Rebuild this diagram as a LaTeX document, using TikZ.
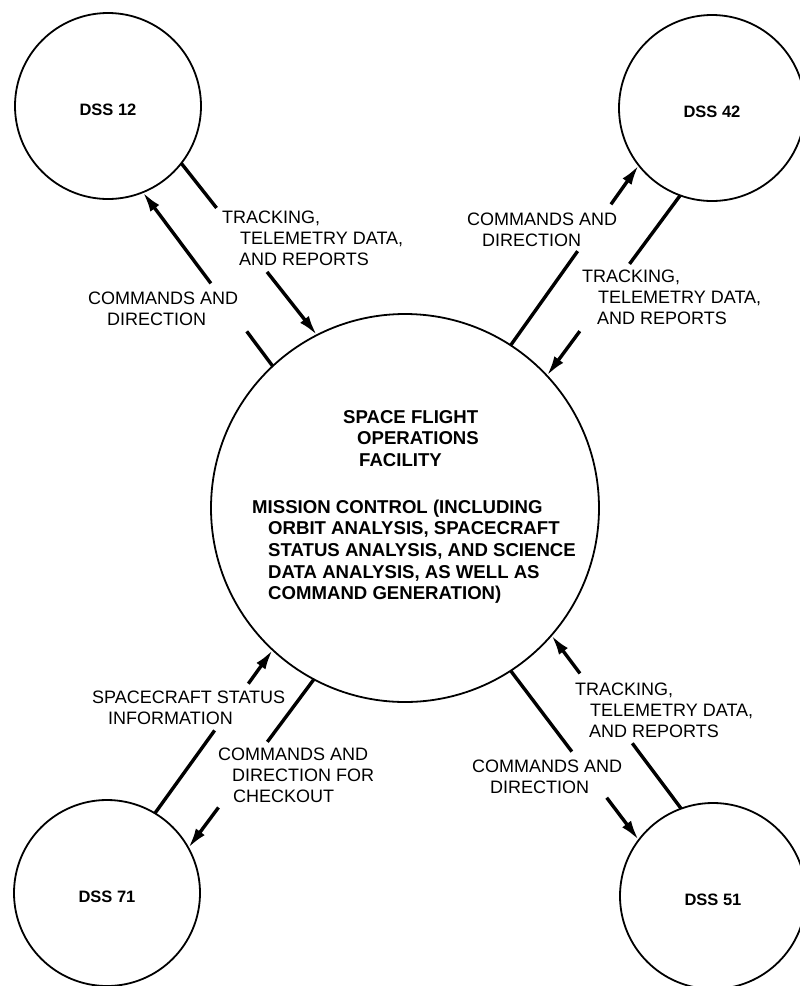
\documentclass[tikz,border=0pt]{standalone}
\usepackage{fontspec}
\setmainfont{Liberation Sans}
\usetikzlibrary{arrows.meta,calc}
% multi-line label block, baseline at the first line
\newcommand\lblock[1]{\begin{tabular}[t]{@{}l@{}}#1\end{tabular}}
\begin{document}
\begin{tikzpicture}[x=1pt,y=-1pt,
  station/.style={circle,draw,line width=1.8pt,minimum size=186pt,inner sep=0pt,outer sep=0pt},
  hub/.style={circle,draw,line width=1.8pt,minimum size=388pt,inner sep=0pt,outer sep=0pt},
  flow/.style={line width=3.4pt},
  flowtip/.style={flow,-{Latex[length=20pt,width=11pt]}},
  lbl/.style={anchor=base west,inner sep=0pt,font=\fontsize{18}{21}\selectfont},
  hubtext/.style={anchor=base west,inner sep=0pt,font=\bfseries\fontsize{18.6}{21.7}\selectfont},
  dss/.style={font=\bfseries\fontsize{16.5}{19}\selectfont}
]
\useasboundingbox (0,0) rectangle (800,986);
\fill[white] (0,0) rectangle (800,986);
\clip (0,0) rectangle (800,986);

% stations and the central facility
\node[station,label={[dss,yshift=-4pt]center:DSS 12}] (d12) at (108,106) {};
\node[station,label={[dss,yshift=-4pt]center:DSS 42}] (d42) at (712,108) {};
\node[station,label={[dss,yshift=-4pt]center:DSS 71}] (d71) at (107,893) {};
\node[station,label={[dss,yshift=-4pt]center:DSS 51}] (d51) at (713,896) {};
\node[hub] (sfo) at (405,508) {};

\node[hubtext] (sfotitle) at (343,423)
  {\lblock{SPACE FLIGHT\\\hspace*{14pt}OPERATIONS\\\hspace*{16pt}FACILITY}};
\node[hubtext] (sfobody) at (252,513)
  {\lblock{MISSION CONTROL (INCLUDING\\
   \hspace*{16pt}ORBIT ANALYSIS, SPACECRAFT\\
   \hspace*{16pt}STATUS ANALYSIS, AND SCIENCE\\
   \hspace*{16pt}DATA ANALYSIS, AS WELL AS\\
   \hspace*{16pt}COMMAND GENERATION)}};

% data flows: each line is broken where its label sits
\foreach \s/\e/\ta/\tb [count=\i] in {
    sfo.133.1/d12.-68.5/0.20/0.476,
    d12.-38.2/sfo.117.0/0.26/0.632,
    sfo.57.5/d42.218.4/0.523/0.783,
    d42.250.2/sfo.43.6/0.38/0.753,
    d71.59.7/sfo.227.1/0.507/0.793,
    sfo.242.1/d71.29.6/0.371/0.76,
    d51.110.3/sfo.-41.5/0.377/0.78,
    sfo.-57.0/d51.143.3/0.478/0.75}
{
  \coordinate (gap\i a) at ($(\s)!\ta!(\e)$);
  \coordinate (gap\i b) at ($(\s)!\tb!(\e)$);
  \draw[flow] (\s) -- (gap\i a);
  \draw[flowtip] (gap\i b) -- (\e);
}

% flow labels
\node[lbl] (t12) at (222,223)
  {\lblock{TRACKING,\\\hspace*{18pt}TELEMETRY DATA,\\\hspace*{17pt}AND REPORTS}};
\node[lbl] (c12) at (88,304)
  {\lblock{COMMANDS AND\\\hspace*{19pt}DIRECTION}};
\node[lbl] (c42) at (467,225)
  {\lblock{COMMANDS AND\\\hspace*{15pt}DIRECTION}};
\node[lbl] (t42) at (582,282)
  {\lblock{TRACKING,\\\hspace*{16pt}TELEMETRY DATA,\\\hspace*{15pt}AND REPORTS}};
\node[lbl] (s71) at (92,703)
  {\lblock{SPACECRAFT STATUS\\\hspace*{16pt}INFORMATION}};
\node[lbl] (c71) at (218,760)
  {\lblock{COMMANDS AND\\\hspace*{14pt}DIRECTION FOR\\\hspace*{15pt}CHECKOUT}};
\node[lbl] (t51) at (575,695)
  {\lblock{TRACKING,\\\hspace*{15pt}TELEMETRY DATA,\\\hspace*{14pt}AND REPORTS}};
\node[lbl] (c51) at (472,772)
  {\lblock{COMMANDS AND\\\hspace*{18pt}DIRECTION}};
\end{tikzpicture}
\end{document}
